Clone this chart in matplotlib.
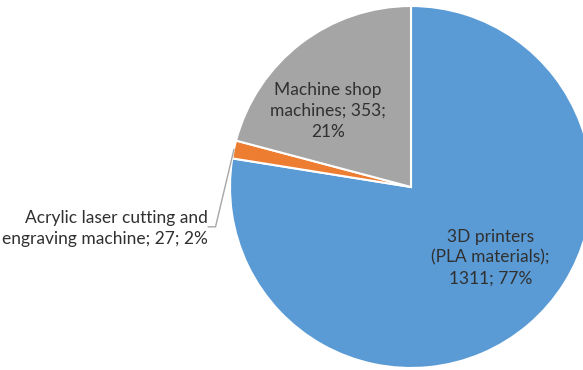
import numpy as np
import matplotlib.pyplot as plt

plt.rcParams['font.family'] = ['Lato', 'DejaVu Sans']

labels = ['3D printers\n(PLA materials);\n1311; 77%',
          'Acrylic laser cutting and\nengraving machine; 27; 2%',
          'Machine shop\nmachines; 353;\n21%']
counts = [1311, 27, 353]
colors = ['#5B9BD5', '#ED7D31', '#A5A5A5']

W, H = 583, 370
cx, cy, R = 411, 187, 181   # pie centre / radius in pixels

fig = plt.figure(figsize=(W / 100, H / 100), dpi=100)
ax = fig.add_axes([0, 0, 1, 1])

wedges, _ = ax.pie(counts, colors=colors, startangle=90, counterclock=False,
                   wedgeprops=dict(edgecolor='white', linewidth=1.5))

ax.set_xlim(-cx / R, (W - cx) / R)
ax.set_ylim(-(H - cy) / R, cy / R)
ax.set_aspect('equal')
ax.axis('off')

txt = dict(fontsize=12.5, color='#303030', linespacing=1.35)

# labels inside the big slices
ax.text(0.44, -0.39, labels[0], ha='center', va='center', **txt)
ax.text(-0.46, 0.42, labels[2], ha='center', va='center', **txt)

# small slice: label outside with a leader line
w = wedges[1]
mid = np.deg2rad((w.theta1 + w.theta2) / 2)
px, py = np.cos(mid), np.sin(mid)
lx, ly = -1.08, -0.22
ax.plot([px, lx, lx - 0.04], [py, ly, ly], color='#A6A6A6', lw=1)
ax.text(lx - 0.04, ly - 0.01, labels[1], ha='right', va='center', **txt)

fig.savefig('out.png', dpi=100)
